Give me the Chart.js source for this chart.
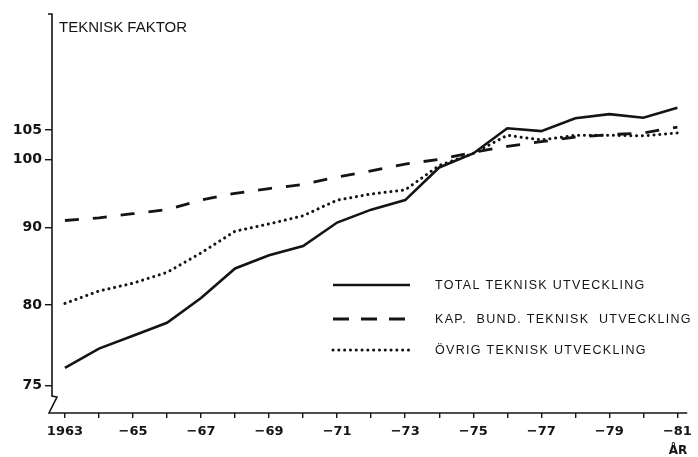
<!DOCTYPE html>
<html>
<head>
<meta charset="utf-8">
<title>Teknisk faktor</title>
<script src="https://cdn.jsdelivr.net/npm/chart.js@4.4.0/dist/chart.umd.min.js"></script>
<style>
  html, body { margin: 0; padding: 0; background: #fff; }
  #wrap { width: 698px; height: 457px; }
</style>
</head>
<body>
<div id="wrap"><canvas id="chart" width="698" height="457"></canvas></div>
<script>
// Values (index, 1975 ~ 100)
const years = [1963, 1964, 1965, 1966, 1967, 1968, 1969, 1970, 1971, 1972,
               1973, 1974, 1975, 1976, 1977, 1978, 1979, 1980, 1981];
const totalValues = [76.1, 77.3, 78.1, 78.9, 80.9, 84.7, 86.4, 87.6, 90.7, 92.6,
                     94.0, 98.8, 101.0, 105.3, 104.8, 107.0, 107.7, 107.1, 108.8];
const kapValues   = [91.0, 91.4, 92.0, 92.6, 94.0, 95.0, 95.7, 96.3, 97.4, 98.3,
                     99.3, 100.0, 101.2, 102.2, 103.0, 103.8, 104.2, 104.5, 105.5];
const ovrigValues = [80.2, 81.8, 82.8, 84.2, 86.7, 89.5, 90.5, 91.7, 94.0, 94.9,
                     95.5, 99.1, 101.0, 104.1, 103.3, 104.1, 104.1, 104.0, 104.5];
const seriesLabels = ['TOTAL TEKNISK UTVECKLING',
                      'KAP.  BUND. TEKNISK  UTVECKLING',
                      'ÖVRIG TEKNISK UTVECKLING'];
const yTicks = [75, 80, 90, 100, 105];
const xLabelYears = [1963, 1965, 1967, 1969, 1971, 1973, 1975, 1977, 1979, 1981];
const xTickLabels = ['1963', '−65', '−67', '−69', '−71', '−73', '−75', '−77', '−79', '−81'];

// The printed value axis is not linear (broken below 80), so the scale
// maps values to axis fractions through these knots.
const yKnotValues = [73.3, 75, 80, 90, 100, 105, 124.8];
const yKnotFracs  = [0, 0.0684, 0.2707, 0.4654, 0.6358, 0.7093, 1];

const INK = '#141414';

function interp(v, xs, ys) {
    let i = 1;
    while (i < xs.length - 1 && v > xs[i]) i++;
    const t = (v - xs[i - 1]) / (xs[i] - xs[i - 1]);
    return ys[i - 1] + t * (ys[i] - ys[i - 1]);
}

class BrokenScale extends Chart.LinearScale {
    static id = 'broken';
    static defaults = Chart.LinearScale.defaults;
    getPixelForValue(value) {
        return this.getPixelForDecimal(interp(value, yKnotValues, yKnotFracs));
    }
    getValueForPixel(pixel) {
        return interp(this.getDecimalForPixel(pixel), yKnotFracs, yKnotValues);
    }
}
Chart.register(BrokenScale);

function makePoints(values) {
    return years.map((yr, i) => ({ x: yr, y: values[i] }));
}

// Axis lines with the break at the bottom of the value axis
const brokenAxes = {
    id: 'brokenAxes',
    afterDatasetsDraw(chart) {
        const { ctx, chartArea: a } = chart;
        ctx.save();
        ctx.strokeStyle = INK;
        ctx.lineWidth = 1.6;
        ctx.lineJoin = 'miter';
        ctx.beginPath();
        ctx.moveTo(a.left - 4, a.top);
        ctx.lineTo(a.left, a.top);
        ctx.lineTo(a.left, a.bottom - 17);
        ctx.lineTo(a.left + 5, a.bottom - 16);
        ctx.lineTo(a.left - 3, a.bottom);
        ctx.lineTo(a.right, a.bottom);
        ctx.stroke();

        // axis title inside the plot
        ctx.fillStyle = INK;
        ctx.font = '15px "Liberation Sans", Arial, sans-serif';
        ctx.textBaseline = 'alphabetic';
        ctx.textAlign = 'left';
        ctx.fillText('TEKNISK FAKTOR', a.left + 7, 31.5);
        ctx.restore();
    }
};

// Legend drawn inside the plot, line samples followed by labels
const inlineLegend = {
    id: 'inlineLegend',
    afterDatasetsDraw(chart) {
        const { ctx } = chart;
        const rowsY = [285, 319, 350];
        ctx.save();
        chart.data.datasets.forEach((ds, i) => {
            const y = rowsY[i];
            ctx.strokeStyle = ds.borderColor;
            ctx.lineWidth = ds.borderWidth;
            ctx.lineCap = ds.borderCapStyle || 'butt';
            ctx.setLineDash(ds.legendDash || ds.borderDash || []);
            ctx.beginPath();
            ctx.moveTo(333, y);
            ctx.lineTo(410, y);
            ctx.stroke();
            ctx.setLineDash([]);
            ctx.fillStyle = INK;
            ctx.font = '12.5px "Liberation Sans", Arial, sans-serif';
            ctx.letterSpacing = '1.3px';
            ctx.textBaseline = 'middle';
            ctx.textAlign = 'left';
            ctx.fillText(ds.label, 435, y + 1);
        });
        ctx.restore();
    }
};

const lineStyle = {
    borderColor: INK,
    borderWidth: 2.6,
    pointRadius: 0,
    fill: false,
    tension: 0
};

new Chart(document.getElementById('chart'), {
    type: 'line',
    data: {
        datasets: [
            Object.assign({ label: seriesLabels[0], data: makePoints(totalValues) }, lineStyle),
            Object.assign({ label: seriesLabels[1], data: makePoints(kapValues),
                borderDash: [14, 14], legendDash: [16, 12] }, lineStyle, { borderWidth: 2.8 }),
            Object.assign({ label: seriesLabels[2], data: makePoints(ovrigValues),
                borderDash: [0.1, 5.7], borderCapStyle: 'round' }, lineStyle, { borderWidth: 3 })
        ]
    },
    options: {
        responsive: false,
        devicePixelRatio: 1,
        animation: false,
        layout: { padding: { top: 14, right: 8, left: 0, bottom: 0 } },
        plugins: {
            legend: { display: false },
            title: { display: false },
            tooltip: { enabled: false }
        },
        scales: {
            x: {
                type: 'linear',
                min: 1962.62,
                max: 1981.29,
                afterFit: s => { s.height = 44; },
                afterBuildTicks: s => { s.ticks = years.map(v => ({ value: v })); },
                grid: { display: true, drawOnChartArea: false, drawTicks: true,
                        tickLength: 5, color: INK, lineWidth: 1.4 },
                border: { display: false },
                ticks: {
                    autoSkip: false,
                    maxRotation: 0,
                    padding: 6,
                    color: INK,
                    font: { family: '"DejaVu Sans", sans-serif', size: 13, weight: 'bold' },
                    callback: v => {
                        const k = xLabelYears.indexOf(v);
                        return k >= 0 ? xTickLabels[k] : '';
                    }
                },
                title: {
                    display: true,
                    text: 'ÅR',
                    align: 'end',
                    color: INK,
                    padding: 0,
                    font: { family: '"DejaVu Sans", sans-serif', size: 12, weight: 'bold', lineHeight: 1 }
                }
            },
            y: {
                type: 'broken',
                min: 73.3,
                max: 124.8,
                afterFit: s => { s.width = 52; },
                afterBuildTicks: s => { s.ticks = yTicks.map(v => ({ value: v })); },
                grid: { display: true, drawOnChartArea: false, drawTicks: true,
                        tickLength: 7, color: INK, lineWidth: 1.4 },
                border: { display: false },
                ticks: {
                    padding: 3,
                    color: INK,
                    font: { family: '"DejaVu Sans", sans-serif', size: 14, weight: 'bold' }
                }
            }
        }
    },
    plugins: [brokenAxes, inlineLegend]
});
</script>
</body>
</html>
